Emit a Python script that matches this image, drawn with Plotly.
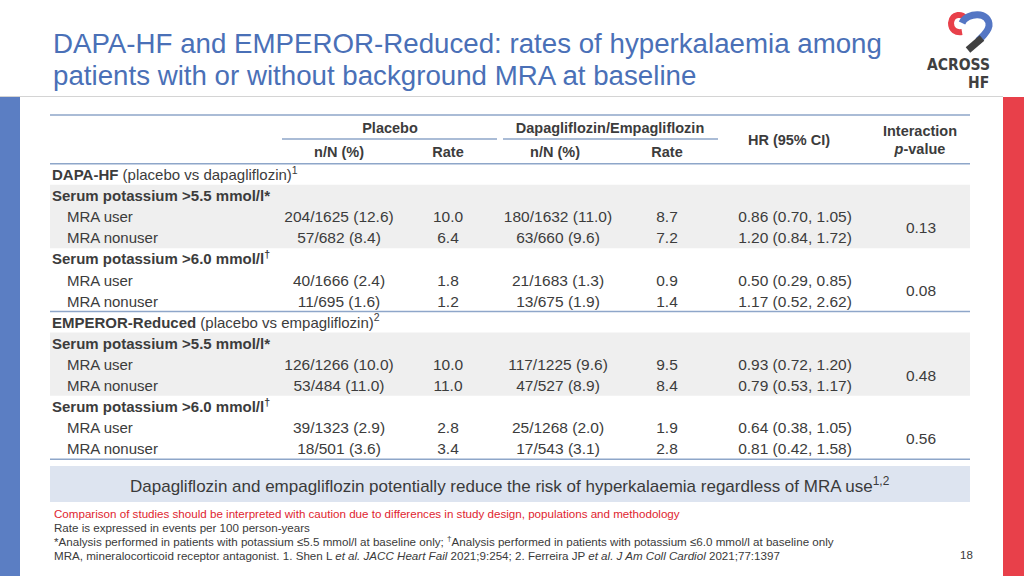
import plotly.graph_objects as go

# ---------------- data ----------------
trials = ["DAPA-HF", "EMPEROR-Reduced"]
trial_notes = ["(placebo vs dapagliflozin)<sup>1</sup>", "(placebo vs empagliflozin)<sup>2</sup>"]
thresholds = ["Serum potassium >5.5 mmol/l*", "Serum potassium >6.0 mmol/l<sup>†</sup>"]
subgroups = ["MRA user", "MRA nonuser"]

placebo_nN = ["204/1625 (12.6)", "57/682 (8.4)", "40/1666 (2.4)", "11/695 (1.6)",
              "126/1266 (10.0)", "53/484 (11.0)", "39/1323 (2.9)", "18/501 (3.6)"]
placebo_rate = [10.0, 6.4, 1.8, 1.2, 10.0, 11.0, 2.8, 3.4]
sglt2_nN = ["180/1632 (11.0)", "63/660 (9.6)", "21/1683 (1.3)", "13/675 (1.9)",
            "117/1225 (9.6)", "47/527 (8.9)", "25/1268 (2.0)", "17/543 (3.1)"]
sglt2_rate = [8.7, 7.2, 0.9, 1.4, 9.5, 8.4, 1.9, 2.8]
hr = [0.86, 1.20, 0.50, 1.17, 0.93, 0.79, 0.64, 0.81]
hr_lo = [0.70, 0.84, 0.29, 0.52, 0.72, 0.53, 0.38, 0.42]
hr_hi = [1.05, 1.72, 0.85, 2.62, 1.20, 1.17, 1.05, 1.58]
p_interaction = [0.13, 0.08, 0.48, 0.56]

col_headers = ["n/N (%)", "Rate", "n/N (%)", "Rate"]
group_headers = ["Placebo", "Dapagliflozin/Empagliflozin"]

title_lines = ["DAPA-HF and EMPEROR-Reduced: rates of hyperkalaemia among",
               "patients with or without background MRA at baseline"]
banner = "Dapagliflozin and empagliflozin potentially reduce the risk of hyperkalaemia regardless of MRA use<sup>1,2</sup>"
footnotes = [
    "Comparison of studies should be interpreted with caution due to differences in study design, populations and methodology",
    "Rate is expressed in events per 100 person-years",
    "*Analysis performed in patients with potassium ≤5.5 mmol/l at baseline only; <sup>†</sup>Analysis performed in patients with potassium ≤6.0 mmol/l at baseline only",
    "MRA, mineralocorticoid receptor antagonist. 1. Shen L <i>et al. JACC Heart Fail</i> 2021;9:254; 2. Ferreira JP <i>et al. J Am Coll Cardiol</i> 2021;77:1397",
]
page_number = "18"

# ---------------- styling / layout constants ----------------
FONT = "Liberation Sans, Arial, Helvetica, sans-serif"
LOGO_FONT = "DejaVu Sans Condensed, Liberation Sans Narrow, Arial Narrow, sans-serif"
TXT = "#3c3c3c"
BLUE_TITLE = "#4a70b7"
SIDE_BLUE = "#5b7ec3"
SIDE_RED = "#e8404a"
RULE = "#8ea6c9"
BAND = "#efefef"
BANNER_BG = "#dde4f0"

Y0, STEP = 174.3, 21.1
TEXT_DY = 2.0
X_LEFT, X_INDENT = 52, 67
TBL_X0, TBL_X1 = 50, 970
COLX = [339, 448, 558, 667, 795, 921]
CELL_SIZE = 15.5

# build row list
rows = []  # (kind, label, data_index)
k = 0
for t, note in zip(trials, trial_notes):
    rows.append(("trial", f"<b>{t}</b> {note}", None))
    for th in thresholds:
        rows.append(("thr", f"<b>{th}</b>", None))
        for sg in subgroups:
            rows.append(("data", sg, k))
            k += 1

row_y = [Y0 + STEP * i for i in range(len(rows))]

fig = go.Figure()

# left labels
lab_x, lab_y, lab_t = [], [], []
for (kind, label, di), y in zip(rows, row_y):
    lab_x.append(X_INDENT if kind == "data" else X_LEFT)
    lab_y.append(y + TEXT_DY)
    lab_t.append(label)
fig.add_trace(go.Scatter(x=lab_x, y=lab_y, text=lab_t, mode="text",
                         textposition="middle right", marker=dict(size=0),
                         textfont=dict(family=FONT, size=15, color=TXT),
                         hoverinfo="skip", showlegend=False))

# data cells
data_y = [row_y[i] + TEXT_DY for i, r in enumerate(rows) if r[0] == "data"]
columns = [
    placebo_nN,
    [f"{v:.1f}" for v in placebo_rate],
    sglt2_nN,
    [f"{v:.1f}" for v in sglt2_rate],
    [f"{h:.2f} ({l:.2f}, {u:.2f})" for h, l, u in zip(hr, hr_lo, hr_hi)],
]
for cx, vals in zip(COLX[:5], columns):
    fig.add_trace(go.Scatter(x=[cx] * len(vals), y=data_y, text=vals, mode="text",
                             textposition="middle center",
                             textfont=dict(family=FONT, size=CELL_SIZE, color=TXT),
                             hoverinfo="skip", showlegend=False))

# interaction p-values (between user/nonuser rows)
p_y = [(data_y[2 * i] + data_y[2 * i + 1]) / 2 for i in range(len(p_interaction))]
fig.add_trace(go.Scatter(x=[COLX[5]] * len(p_interaction), y=p_y,
                         text=[f"{p:.2f}" for p in p_interaction], mode="text",
                         textposition="middle center",
                         textfont=dict(family=FONT, size=CELL_SIZE, color=TXT),
                         hoverinfo="skip", showlegend=False))

# headers
hdr_x = [390, 610, 339, 448, 555, 667, 789, 920, 920]
hdr_y = [129.5, 129.5, 153.5, 153.5, 153.5, 153.5, 141, 132, 150]
hdr_t = [f"<b>{g}</b>" for g in group_headers] + [f"<b>{c}</b>" for c in col_headers] + \
        ["<b>HR (95% CI)</b>", "<b>Interaction</b>", "<b><i>p</i>-value</b>"]
fig.add_trace(go.Scatter(x=hdr_x, y=hdr_y, text=hdr_t, mode="text",
                         textposition="middle center",
                         textfont=dict(family=FONT, size=14.5, color=TXT),
                         hoverinfo="skip", showlegend=False))

shapes = []
# side bars and title rule
shapes.append(dict(type="rect", x0=0, x1=20, y0=97, y1=576, fillcolor=SIDE_BLUE, line_width=0, layer="below"))
shapes.append(dict(type="rect", x0=1003, x1=1024, y0=97, y1=576, fillcolor=SIDE_RED, line_width=0, layer="below"))
shapes.append(dict(type="line", x0=0, x1=1003, y0=96.5, y1=96.5, line=dict(color="#d4d4d4", width=1)))

# grey bands for the >5.5 blocks
for i, r in enumerate(rows):
    if r[0] == "thr" and ">5.5" in r[1]:
        shapes.append(dict(type="rect", x0=TBL_X0, x1=TBL_X1,
                           y0=row_y[i] - STEP / 2, y1=row_y[i + 2] + STEP / 2,
                           fillcolor=BAND, line_width=0, layer="below"))

# rules
def hline(y, x0=TBL_X0, x1=TBL_X1):
    shapes.append(dict(type="line", x0=x0, x1=x1, y0=y, y1=y, line=dict(color=RULE, width=1.5)))

hline(115)
hline(139, 282, 497)
hline(139, 503, 718)
hline(row_y[0] - STEP / 2)
hline(row_y[7] - STEP / 2)
hline(row_y[-1] + STEP / 2)

# banner
shapes.append(dict(type="rect", x0=TBL_X0, x1=TBL_X1, y0=466, y1=502,
                   fillcolor=BANNER_BG, line_width=0, layer="below"))

# logo (decorative)
shapes.append(dict(type="path", path="M 966,19 C 963,13 952,13 951,23 C 951,30 956,33 962,32",
                   line=dict(color="#e8404a", width=6)))
shapes.append(dict(type="path", path="M 962,23 C 967,12 990,11 989,26 C 988,32 983,36 978,41",
                   line=dict(color="#5476c4", width=7)))
shapes.append(dict(type="line", x0=968, y0=50, x1=982, y1=38, line=dict(color="#404040", width=7)))

annotations = []
for i, line in enumerate(title_lines):
    annotations.append(dict(x=51, y=43 + 32 * i, xref="x", yref="y", text=line, showarrow=False,
                            xanchor="left", yanchor="middle",
                            font=dict(family=FONT, size=27.7, color=BLUE_TITLE)))
annotations.append(dict(x=958, y=65, xref="x", yref="y", text="<b>ACROSS</b>", showarrow=False,
                        xanchor="center", yanchor="middle",
                        font=dict(family=LOGO_FONT, size=15.5, color="#404040")))
annotations.append(dict(x=991, y=82.5, xref="x", yref="y", text="<b>HF</b>", showarrow=False,
                        xanchor="right", yanchor="middle",
                        font=dict(family=LOGO_FONT, size=15.5, color="#404040")))
annotations.append(dict(x=510, y=485, xref="x", yref="y", text=banner, showarrow=False,
                        xanchor="center", yanchor="middle",
                        font=dict(family=FONT, size=17, color="#3a3a3a")))
for i, fn in enumerate(footnotes):
    annotations.append(dict(x=52, y=513 + 14 * i, xref="x", yref="y", text=fn, showarrow=False,
                            xanchor="left", yanchor="middle",
                            font=dict(family=FONT, size=11.6, color=("#e0242f" if i == 0 else "#3a3a3a"))))
annotations.append(dict(x=966, y=555, xref="x", yref="y", text=page_number, showarrow=False,
                        xanchor="center", yanchor="middle",
                        font=dict(family=FONT, size=11.5, color="#3a3a3a")))

fig.update_layout(
    width=1024, height=576,
    margin=dict(l=0, r=0, t=0, b=0),
    paper_bgcolor="white", plot_bgcolor="white",
    xaxis=dict(range=[0, 1024], visible=False, fixedrange=True),
    yaxis=dict(range=[576, 0], visible=False, fixedrange=True),
    shapes=shapes, annotations=annotations,
    showlegend=False,
)

fig.write_html("out.html", config={"displayModeBar": False},
               post_script="document.body.style.margin='0';document.body.style.overflow='hidden';")
